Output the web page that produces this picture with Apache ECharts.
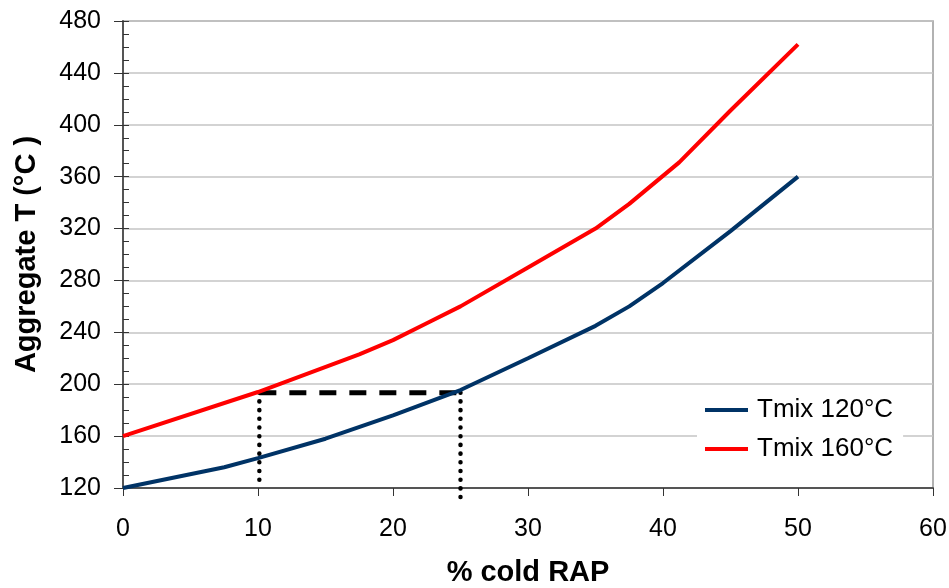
<!DOCTYPE html>
<html>
<head>
<meta charset="utf-8">
<script src="https://cdn.jsdelivr.net/npm/echarts@6/dist/echarts.min.js"></script>
<style>html,body{margin:0;padding:0;background:#fff;}#c{width:949px;height:588px;}</style>
</head>
<body>
<div id="c"></div>
<script>
const xTicks = [0, 10, 20, 30, 40, 50, 60];
const yTicks = [120, 160, 200, 240, 280, 320, 360, 400, 440, 480];
const seriesNames = ['Tmix 120°C', 'Tmix 160°C'];
const xBlue = [0, 7.5, 10, 15, 20, 25, 30, 35, 37.5, 40, 45, 50];
const tBlue = [120, 136, 143, 158, 176, 195.5, 220, 245, 260, 278, 318, 360];
const xRed = [0, 10, 17.5, 20, 22.5, 25, 30, 35, 37.5, 41.2, 45, 50];
const tRed = [160, 194, 223, 234, 247, 260, 290, 320, 339, 371, 411, 462];
const guideX = [10.1, 25];
const guideT = 193.5;

const font = '"Liberation Sans", Arial, sans-serif';
const chart = echarts.init(document.getElementById('c'), null, {renderer: 'canvas'});
const pairs = (xs, ys) => xs.map((x, i) => [x, ys[i]]);
const yMin = yTicks[0], yMax = yTicks[yTicks.length - 1];

chart.setOption({
  animation: false,
  backgroundColor: '#fff',
  grid: {left: 123, right: 16, top: 21, bottom: 100, show: true, borderColor: '#999', borderWidth: 1.5,
         containLabel: false, outerBoundsMode: 'none'},
  legend: {
    data: seriesNames,
    orient: 'vertical',
    left: 697, top: 389,
    backgroundColor: '#fff',
    padding: [8, 10, 8, 8],
    itemGap: 13,
    itemWidth: 43, itemHeight: 4,
    icon: 'rect',
    textStyle: {fontFamily: font, fontSize: 26, color: '#000', padding: [0, 0, 0, 4]}
  },
  xAxis: {
    type: 'value', min: xTicks[0], max: xTicks[xTicks.length - 1], interval: 10,
    name: '% cold RAP', nameLocation: 'middle', nameGap: 70,
    nameTextStyle: {fontFamily: font, fontSize: 29, fontWeight: 'bold', color: '#000'},
    axisLine: {lineStyle: {color: '#555', width: 2}},
    axisTick: {length: 8, lineStyle: {color: '#333', width: 1}},
    axisLabel: {fontFamily: font, fontSize: 25, color: '#000', margin: 29},
    splitLine: {show: false}
  },
  yAxis: [{
    type: 'value', min: yMin, max: yMax, interval: 40,
    name: 'Aggregate T (°C )', nameLocation: 'middle', nameGap: 82,
    nameTextStyle: {fontFamily: font, fontSize: 29, fontWeight: 'bold', color: '#000'},
    axisLine: {lineStyle: {color: '#555', width: 2}},
    axisTick: {length: 9, lineStyle: {color: '#333', width: 1}},
    axisLabel: {fontFamily: font, fontSize: 25, color: '#000', margin: 22},
    splitLine: {lineStyle: {color: '#c4c4c4', width: 1.5}}
  }, {
    type: 'value', min: yMin, max: yMax, interval: 40, position: 'left',
    axisLine: {show: false},
    axisTick: {show: true, inside: true, length: 6, lineStyle: {color: '#333', width: 1}},
    minorTick: {show: true, splitNumber: 4, length: 6, lineStyle: {color: '#333', width: 1}},
    axisLabel: {show: false},
    splitLine: {show: false}
  }],
  series: [
    {name: seriesNames[0], type: 'line', data: pairs(xBlue, tBlue), showSymbol: false, symbol: 'none',
     lineStyle: {color: '#003366', width: 4}, itemStyle: {color: '#003366'}, z: 3},
    {name: seriesNames[1], type: 'line', data: pairs(xRed, tRed), showSymbol: false, symbol: 'none',
     lineStyle: {color: '#ff0000', width: 4}, itemStyle: {color: '#ff0000'}, z: 3},
    {type: 'line', data: [[guideX[0], guideT], [guideX[1], guideT]], symbol: 'none', silent: true,
     lineStyle: {color: '#000', width: 5, type: [17, 13]}, z: 2},
    {type: 'line', data: [[guideX[0], guideT], [guideX[0], yMin]], symbol: 'none', silent: true,
     lineStyle: {color: '#000', width: 4.5, type: [0.1, 8.6], cap: 'round'}, z: 2},
    {type: 'line', data: [[guideX[1], guideT], [guideX[1], 113]], symbol: 'none', silent: true, clip: false,
     lineStyle: {color: '#000', width: 4.5, type: [0.1, 8.6], cap: 'round'}, z: 2}
  ]
});
</script>
</body>
</html>
